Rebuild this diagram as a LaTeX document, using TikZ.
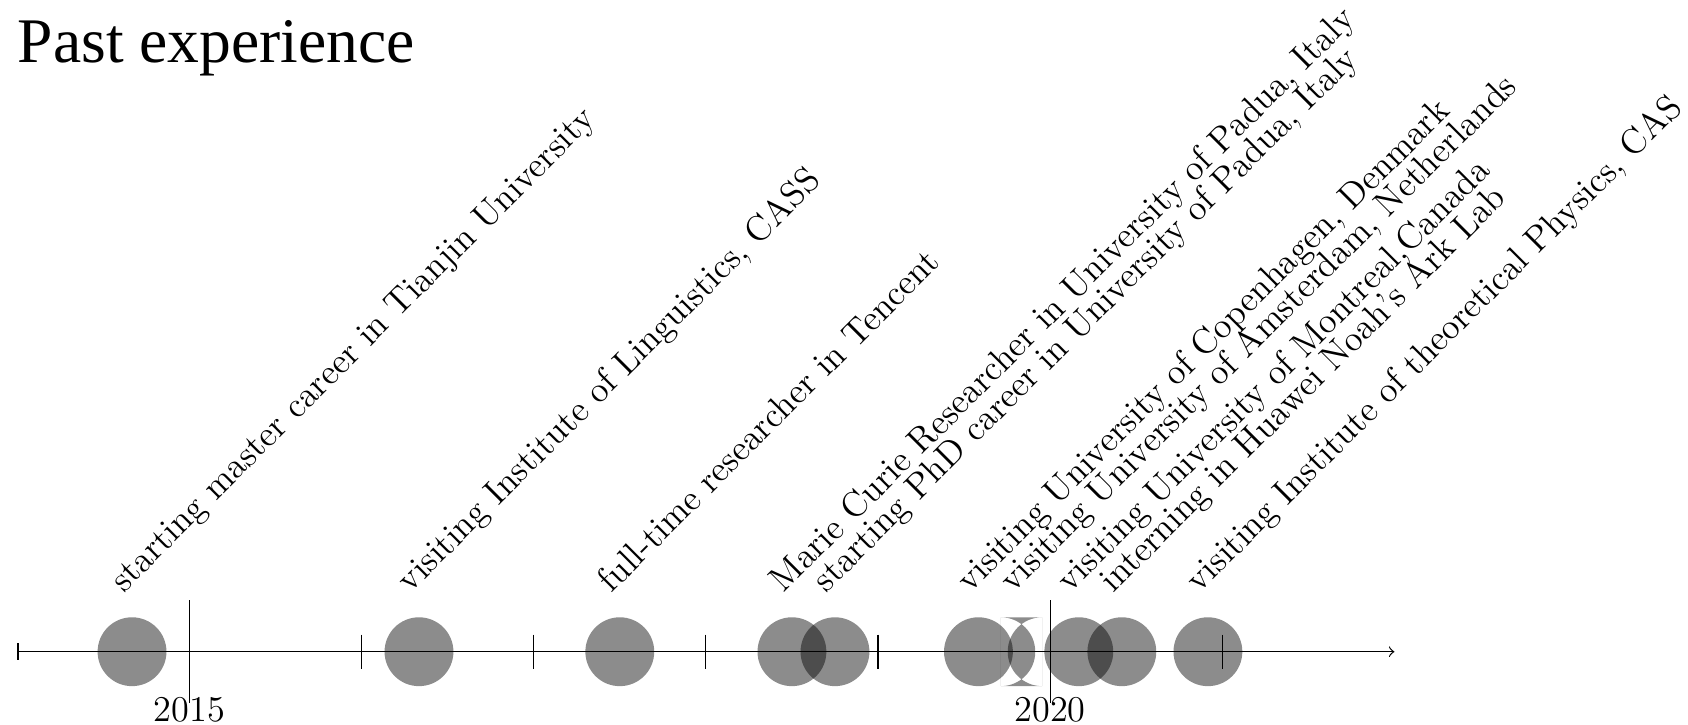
\documentclass[tikz,border=0pt]{standalone}
\usepackage{fontspec}
\newfontfamily\titlefont{Liberation Serif}
\usepackage{tikz}

\begin{document}
\begin{tikzpicture}[
  event/.style={circle,fill=black,fill opacity=0.45,minimum size=0.8cm,inner sep=0pt},
  tag/.style={rotate=45,anchor=base west,inner sep=0pt,font=\fontsize{11.8}{14}\selectfont},
  yearlabel/.style={anchor=base,inner sep=0pt,font=\large}
]
\useasboundingbox (-0.201,-0.846) rectangle (19.411,7.572);

\node[anchor=base west,inner sep=0pt,font=\titlefont\fontsize{21}{25}\selectfont] (title) at (0,6.847) {Past experience};

% events, one year = 2cm from 2014
\node[event] (e1) at (1.333,0) {};
\node[event] (e2) at (4.667,0) {};
\node[event] (e3) at (7.0,0) {};
\node[event] (e4) at (9.0,0) {};
\node[event] (e5) at (9.5,0) {};
\node[event] (e6) at (11.167,0) {};
\coordinate (e7) at (11.667,0);
\begin{scope}
\clip (11.427,-0.4) rectangle (11.907,0.4);
\fill[black,fill opacity=0.45,even odd rule] (11.427,-0.4) rectangle (11.907,0.4)
  (11.427,0) circle (0.4) (11.907,0) circle (0.4);
\end{scope}
\node[event] (e8) at (12.333,0) {};
\node[event] (e9) at (12.833,0) {};
\node[event] (e10) at (13.833,0) {};

% axis
\coordinate (start) at (0,0);
\coordinate (end) at (16,0);
\draw[|->] (start) -- (end);
\foreach \x in {4,6,8,10,14}
  \draw (\x,0.2) -- (\x,-0.2);
\draw (2,0.6) -- (2,-0.6);
\draw (12,0.6) -- (12,-0.6);
\node[yearlabel] (y2015) at (2,-0.813) {2015};
\node[yearlabel] (y2020) at (12,-0.813) {2020};

% labels
\node[tag] (l1) at (1.235,0.67) {starting master career in Tianjin University};
\node[tag] (l2) at (4.569,0.67) {visiting Institute of Linguistics, CASS};
\node[tag] (l3) at (6.902,0.67) {full-time researcher in Tencent};
\node[tag] (l4) at (8.902,0.67) {Marie Curie Researcher in University of Padua, Italy};
\node[tag] (l5) at (9.402,0.67) {starting PhD career in University of Padua, Italy};
\node[tag] (l6) at (11.069,0.67) {visiting University of Copenhagen, Denmark};
\node[tag] (l7) at (11.569,0.67) {visiting University of Amsterdam, Netherlands};
\node[tag] (l8) at (12.235,0.67) {visiting University of Montreal,Canada};
\node[tag] (l9) at (12.735,0.67) {interning in Huawei Noah's Ark Lab};
\node[tag] (l10) at (13.735,0.67) {visiting Institute of theoretical Physics, CAS};
\end{tikzpicture}
\end{document}
